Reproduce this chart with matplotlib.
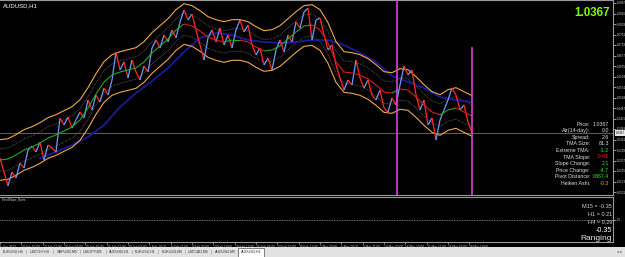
import numpy as np
import matplotlib
matplotlib.use("Agg")
import matplotlib.pyplot as plt
from matplotlib.collections import LineCollection
from matplotlib.patches import Rectangle
import matplotlib.transforms as mtransforms

plt.rcParams['font.family'] = ['Liberation Sans', 'DejaVu Sans']

# ---- data (AUDUSD H1, one sample = 12 bars) ----
closes = [1.0267, 1.0211, 1.0155, 1.0211, 1.0187, 1.0247, 1.0227, 1.0299, 1.0315, 1.0291,
          1.0331, 1.0259, 1.0319, 1.0307, 1.0291, 1.0427, 1.0399, 1.0431, 1.0387, 1.0419,
          1.0451, 1.0427, 1.0499, 1.0459, 1.0519, 1.0491, 1.0547, 1.0519, 1.0579, 1.0691,
          1.0619, 1.0651, 1.0587, 1.0659, 1.0611, 1.0579, 1.0635, 1.0611, 1.0707, 1.0739,
          1.0707, 1.0759, 1.0731, 1.0779, 1.0747, 1.0811, 1.0859, 1.0819, 1.0843, 1.0779,
          1.0719, 1.0659, 1.0747, 1.0779, 1.0731, 1.0787, 1.0719, 1.0759, 1.0707, 1.0779,
          1.0819, 1.0771, 1.0799, 1.0719, 1.0679, 1.0707, 1.0639, 1.0667, 1.0619, 1.0699,
          1.0739, 1.0691, 1.0759, 1.0731, 1.0811, 1.0787, 1.0851, 1.0867, 1.0739, 1.0819,
          1.0827, 1.0759, 1.0699, 1.0719, 1.0639, 1.0587, 1.0539, 1.0579, 1.0559, 1.0659,
          1.0587, 1.0547, 1.0579, 1.0519, 1.0499, 1.0539, 1.0467, 1.0451, 1.0507, 1.0479,
          1.0559, 1.0635, 1.0599, 1.0619, 1.0519, 1.0459, 1.0499, 1.0399, 1.0427, 1.0339,
          1.0419, 1.0459, 1.0499, 1.0547, 1.0519, 1.0459, 1.0479, 1.0411, 1.0367]
close_step = 12

# TMA centre line, one sample every 24 bars
tma_centre = [1.0259, 1.0263, 1.0279, 1.0299, 1.0311, 1.0327, 1.0347, 1.0359, 1.0375, 1.0391,
              1.0419, 1.0467, 1.0523, 1.0571, 1.0599, 1.0611, 1.0619, 1.0627, 1.0651, 1.0687,
              1.0715, 1.0743, 1.0779, 1.0803, 1.0795, 1.0775, 1.0751, 1.0739, 1.0731, 1.0739,
              1.0739, 1.0731, 1.0711, 1.0695, 1.0699, 1.0715, 1.0743, 1.0771, 1.0795, 1.0799,
              1.0779, 1.0727, 1.0651, 1.0611, 1.0607, 1.0599, 1.0583, 1.0559, 1.0531, 1.0527,
              1.0543, 1.0539, 1.0511, 1.0479, 1.0451, 1.0439, 1.0459, 1.0467, 1.0451, 1.0435]
tma_step = 24
tma_size = 0.00813          # "TMA Size: 81.3" pips

# slow moving average (dark blue), from bar 120, every 48 bars
slow_ma = [1.0267, 1.0291, 1.0319, 1.0351, 1.0399, 1.0471, 1.0527, 1.0575, 1.0627, 1.0691,
           1.0747, 1.0767, 1.0759, 1.0739, 1.0731, 1.0727, 1.0731, 1.0739, 1.0739, 1.0719,
           1.0687, 1.0651, 1.0595, 1.0571, 1.0547, 1.0511, 1.0499, 1.0491]
slow_start, slow_step = 120, 48

event_bars = [1191, 1416]   # magenta vertical lines

price_ticks = [1.0887, 1.0845, 1.0803, 1.0761, 1.0719, 1.0677, 1.0635, 1.0593, 1.0551, 1.0509,
               1.0467, 1.0425, 1.0383, 1.0341, 1.0299, 1.0257, 1.0215, 1.0173, 1.0131]

time_labels = ["6 Jan 2012", "10 Jan 19:00", "13 Jan 11:00", "18 Jan 03:00", "20 Jan 19:00",
               "25 Jan 11:00", "30 Jan 03:00", "1 Feb 19:00", "6 Feb 11:00", "9 Feb 03:00",
               "13 Feb 19:00", "16 Feb 11:00", "21 Feb 03:00", "23 Feb 19:00", "28 Feb 11:00",
               "2 Mar 03:00", "6 Mar 19:00", "9 Mar 11:00", "14 Mar 03:00", "16 Mar 19:00",
               "21 Mar 11:00", "26 Mar 03:00", "28 Mar 19:00"]
time_step = 64

info_labels = ["Price:", "Atr(14-day):", "Spread:", "TMA Size:", "Extreme TMA:", "TMA Slope:",
               "Slope Change:", "Price Change:", "Pivot Distance:", "Heiken Ashi:"]
info_values = ["1.0367", "0.0", "2.6", "81.3", "-1.2", "-0.61", "2.1", "-4.7", "0367.4", "-0.3"]
info_colors = ["#e0e0e0", "#e0e0e0", "#e0e0e0", "#e0e0e0", "#33ee33", "#ff2020",
               "#33ee33", "#33ee33", "#33ee33", "#ffa020"]

slope_lines = ["M15 = -0.35", "H1 = 0.21", "H4 = 0.29"]
slope_value = "-0.35"
slope_state = "Ranging"

tabs = ["EURUSD,H4", "USDCHF,H4", "GBPUSD,M5", "USDJPY,M5", "AUDUSD,H1",
        "EURUSD,H1", "EURUSD,M5", "USDCAD,M5", "AUDUSD,M5", "AUDUSD,H1"]

# ---- layout helpers (pixel boxes on a 625x257 canvas) ----
W, H = 625, 257


def box(left, top, right, bottom):
    return [left / W, 1 - bottom / H, (right - left) / W, (bottom - top) / H]


fig = plt.figure(figsize=(W / 100, H / 100), dpi=100, facecolor='black')
ax = fig.add_axes(box(0, 0, 613, 195))
sub = fig.add_axes(box(0, 197, 613, 242))

x_max = 613 * 3
for a in (ax, sub):
    a.set_facecolor('black')
    a.set_xlim(0, x_max)
    for side in ('top', 'bottom', 'right'):
        a.spines[side].set_color('#9a9a9a')
        a.spines[side].set_linewidth(0.8)
    a.spines['left'].set_visible(False)

ax.set_ylim(1.0119, 1.0899)
sub.set_ylim(-1, 1)

# ---- price ----
closes = np.array(closes)
cx = np.arange(len(closes)) * close_step
segs = [[(cx[i - 1], closes[i - 1]), (cx[i], closes[i])] for i in range(1, len(closes))]
cols = ['#6a94f0' if closes[i] >= closes[i - 1] else '#ff2525' for i in range(1, len(closes))]
ax.add_collection(LineCollection(segs, colors=cols, linewidths=0.95, zorder=4))

# ---- TMA bands ----
tma_centre = np.array(tma_centre)
tx = np.arange(len(tma_centre)) * tma_step
ax.plot(tx, tma_centre + tma_size, color='#f0a848', lw=0.8, zorder=3)
ax.plot(tx, tma_centre - tma_size, color='#f0a848', lw=0.8, zorder=3)
ax.plot(tx, tma_centre + tma_size * 0.55, color='#a0a0a0', lw=0.45, ls=(0, (1, 1.5)), zorder=2)
ax.plot(tx, tma_centre - tma_size * 0.55, color='#a0a0a0', lw=0.45, ls=(0, (1, 1.5)), zorder=2)
tsegs = [[(tx[i - 1], tma_centre[i - 1]), (tx[i], tma_centre[i])] for i in range(1, len(tma_centre))]
tcols = ['#22aa22' if tma_centre[i] >= tma_centre[i - 1] else '#dd1c1c' for i in range(1, len(tma_centre))]
ax.add_collection(LineCollection(tsegs, colors=tcols, linewidths=0.8, zorder=5))

# slow MA
sx = slow_start + np.arange(len(slow_ma)) * slow_step
ax.plot(sx, slow_ma, color='#1a1a9c', lw=1.3, zorder=2)

# current price line and event markers
ax.axhline(closes[-1], color='#6e6e6e', lw=0.6, zorder=1)
ax.axvline(event_bars[0], color='#dd3edd', lw=1.2, zorder=6)
ax.axvline(event_bars[1], ymin=0, ymax=0.754, color='#dd3edd', lw=1.2, zorder=6)

# ---- right price axis ----
ax.yaxis.tick_right()
ax.set_yticks(price_ticks)
ax.set_yticklabels([f"{p:.4f}" for p in price_ticks])
ax.tick_params(axis='y', colors='#d0d0d0', labelsize=2.2, length=2, width=0.5, pad=1)
ax.tick_params(axis='x', bottom=False, labelbottom=False)
trans = mtransforms.blended_transform_factory(ax.transAxes, ax.transData)
ax.text(1.004, closes[-1], "1.0367", transform=trans, fontsize=2.2, color='black',
        va='center', ha='left', bbox=dict(boxstyle='square,pad=0.25', fc='#e8e8e8', ec='none'))

# ---- texts on the main window ----
fig.text(3 / W, 1 - 6 / H, "AUDUSD,H1", color='white', fontsize=4.3, va='center', ha='left')
fig.text(610 / W, 1 - 13 / H, "1.0367", color='#7cfc00', fontsize=8.3, weight='bold',
         va='center', ha='right')
for i, (lab, val, col) in enumerate(zip(info_labels, info_values, info_colors)):
    y = 1 - (124 + i * 6.6) / H
    fig.text(590 / W, y, lab, color='#e0e0e0', fontsize=3.8, va='center', ha='right')
    fig.text(609 / W, y, val, color=col, fontsize=3.8, va='center', ha='right')

# ---- sub window ----
sub.axhline(0, color='#9a9a9a', lw=0.6, ls=(0, (1, 1)))
sub.yaxis.tick_right()
sub.set_yticks([0])
sub.set_yticklabels(["0.0"])
sub.tick_params(axis='y', colors='#d0d0d0', labelsize=2.2, length=2, width=0.5, pad=1)
fig.text(2 / W, 1 - 200 / H, "TrendSlope_Norm", color='#c8c8c8', fontsize=2.2, va='center')
for i, s in enumerate(slope_lines):
    fig.text(612 / W, 1 - (206 + i * 8.5) / H, s, color='#d8d8d8', fontsize=4.0,
             va='center', ha='right')
fig.text(612 / W, 1 - 231 / H, slope_value, color='white', fontsize=5.2, va='center', ha='right')
fig.text(612 / W, 1 - 238.5 / H, slope_state, color='#e8e8e8', fontsize=6.0, va='center', ha='right')

# time axis
sub.set_xticks(np.arange(len(time_labels)) * time_step)
sub.set_xticklabels(time_labels, ha='left')
sub.tick_params(axis='x', colors='#c8c8c8', labelsize=2.3, length=1.5, width=0.5, pad=0.6)

# ---- tab bar ----
fig.patches.append(Rectangle((0, 0), 1, 10.5 / H, transform=fig.transFigure,
                             fc='#e2e2e2', ec='none', zorder=0))
tab_x = [13, 40, 67, 93, 119, 145, 172, 198, 225, 251]
for i, (name, xc) in enumerate(zip(tabs, tab_x)):
    if i == len(tabs) - 1:
        fig.patches.append(Rectangle(((xc - 13) / W, 0), 26 / W, 9.5 / H, transform=fig.transFigure,
                                     fc='white', ec='#505050', lw=0.5, zorder=1))
    fig.text(xc / W, 5 / H, name, fontsize=2.6, color='#303030', ha='center', va='center', zorder=2)
    if i < len(tabs) - 1:
        fig.text((xc + 13.3) / W, 5 / H, "|", fontsize=3, color='#707070', ha='center', va='center')
fig.text(620 / W, 5 / H, "\u25c2 \u25b8", fontsize=3, color='#606060', ha='center', va='center')

fig.savefig("out.png", dpi=100, facecolor='black')
